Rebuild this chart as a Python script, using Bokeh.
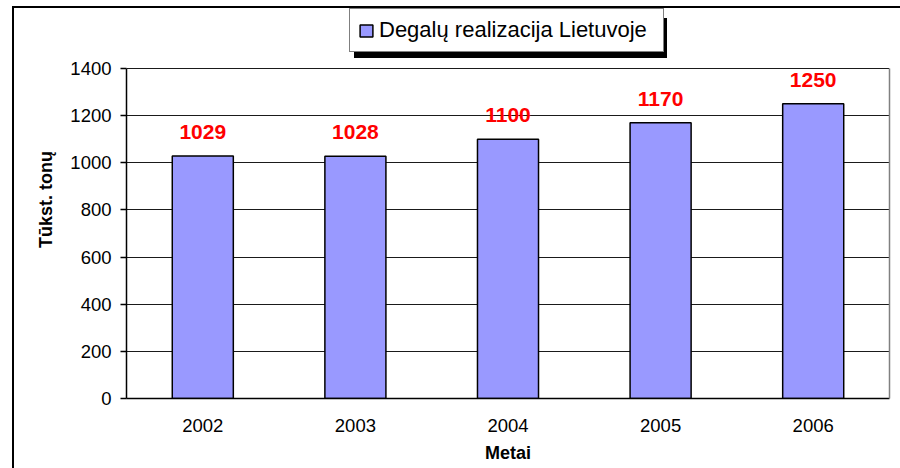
from bokeh.plotting import figure
from bokeh.models import (ColumnDataSource, FactorRange, Range1d, FixedTicker,
                          Legend, LegendItem, LabelSet, InlineStyleSheet,
                          LinearAxis)
from bokeh.core.properties import value
from bokeh.embed import file_html
from bokeh.resources import INLINE

years = ["2002", "2003", "2004", "2005", "2006"]
fuel_sales = [1029, 1028, 1100, 1170, 1250]
value_labels = ["1029", "1028", "1100", "1170", "1250"]
y_ticks = [0, 200, 400, 600, 800, 1000, 1200, 1400]
series_name = "Degalų realizacija Lietuvoje"
x_title = "Metai"
y_title = "Tūkst. tonų"

FONT = "Liberation Sans"

# layout constants (pixels): the frame reaches the top of the canvas so the
# legend above the plot area is not clipped; the value axis ends at y_max.
W, H = 900, 468
AREA_TOP, AREA_BOTTOM = 68, 398
y_max = y_ticks[-1]
y_end = y_max * AREA_BOTTOM / (AREA_BOTTOM - AREA_TOP)

src = ColumnDataSource(dict(x=years, y=fuel_sales, lab=value_labels))

p = figure(width=W, height=H,
           x_range=FactorRange(factors=years),
           y_range=Range1d(0, y_end),
           output_backend="svg", toolbar_location=None,
           title_location=None,
           min_border_left=126, min_border_right=11,
           min_border_top=0, min_border_bottom=H - AREA_BOTTOM)

p.background_fill_alpha = 0
p.border_fill_alpha = 0
p.outline_line_color = None

# chart-area border (top/left edges) and legend drop shadow, painted behind
# the transparent canvas
p.stylesheets = [InlineStyleSheet(css="""
:host {
  background-color: white;
  background-image: linear-gradient(#000,#000), linear-gradient(#000,#000), linear-gradient(#000,#000);
  background-size: 2px 100%, 100% 2px, 313px 40px;
  background-position: 12px 6px, 12px 6px, 354px 18px;
  background-repeat: no-repeat;
}
""")]

r = p.vbar(x="x", top="y", width=0.4, source=src,
           fill_color="#9999FF", line_color="black", line_width=1.5)

labels = LabelSet(x="x", y="y", text="lab", source=src, y_offset=17,
                  text_align="center", text_baseline="alphabetic",
                  text_color="red", text_font=value(FONT),
                  text_font_size="21px", text_font_style="bold")
p.add_layout(labels)

# axes
p.xaxis.axis_label = x_title
p.yaxis.axis_label = y_title
for ax in (p.xaxis, p.yaxis):
    ax.axis_label_text_font = FONT
    ax.axis_label_text_font_size = "18px"
    ax.axis_label_text_font_style = "bold"
    ax.axis_label_text_color = "black"
    ax.major_label_text_font = FONT
    ax.major_label_text_font_size = "18.5px"
    ax.major_label_text_color = "black"
    ax.axis_line_color = "black"
    ax.axis_line_width = 1.5
    ax.minor_tick_line_color = None

p.xaxis.major_tick_line_color = None
p.xaxis.major_label_standoff = 14
p.xaxis.axis_label_standoff = 8

p.yaxis.ticker = FixedTicker(ticks=y_ticks)
p.yaxis.bounds = (0, y_max)
p.yaxis.major_tick_out = 6
p.yaxis.major_tick_in = 0
p.yaxis.major_tick_line_color = "black"
p.yaxis.major_tick_line_width = 1.5
p.yaxis.major_label_standoff = 9
p.yaxis.axis_label_standoff = 11

# plain grey right edge of the plot area
right_edge = LinearAxis(bounds=(0, y_max), ticker=FixedTicker(ticks=[]),
                        axis_line_color="#808080", axis_line_width=1.5,
                        major_tick_line_color=None, minor_tick_line_color=None,
                        major_label_text_font_size="0px")
p.add_layout(right_edge, "right")

p.xgrid.grid_line_color = None
p.ygrid.ticker = FixedTicker(ticks=y_ticks)
p.ygrid.grid_line_color = "#1a1a1a"
p.ygrid.grid_line_width = 1

# legend (inside the frame, above the plot area)
legend = Legend(items=[LegendItem(label=series_name, renderers=[r])],
                location=(223, AREA_BOTTOM - 52), padding=8, margin=0, spacing=0,
                glyph_width=16, glyph_height=15, label_standoff=5,
                label_height=23, label_width=276,
                label_text_font=FONT, label_text_font_size="22px",
                label_text_color="black",
                background_fill_color="white", background_fill_alpha=1.0,
                border_line_color="black", border_line_width=1.5)
p.add_layout(legend, "center")

open("out.html", "w").write(file_html(p, INLINE))
